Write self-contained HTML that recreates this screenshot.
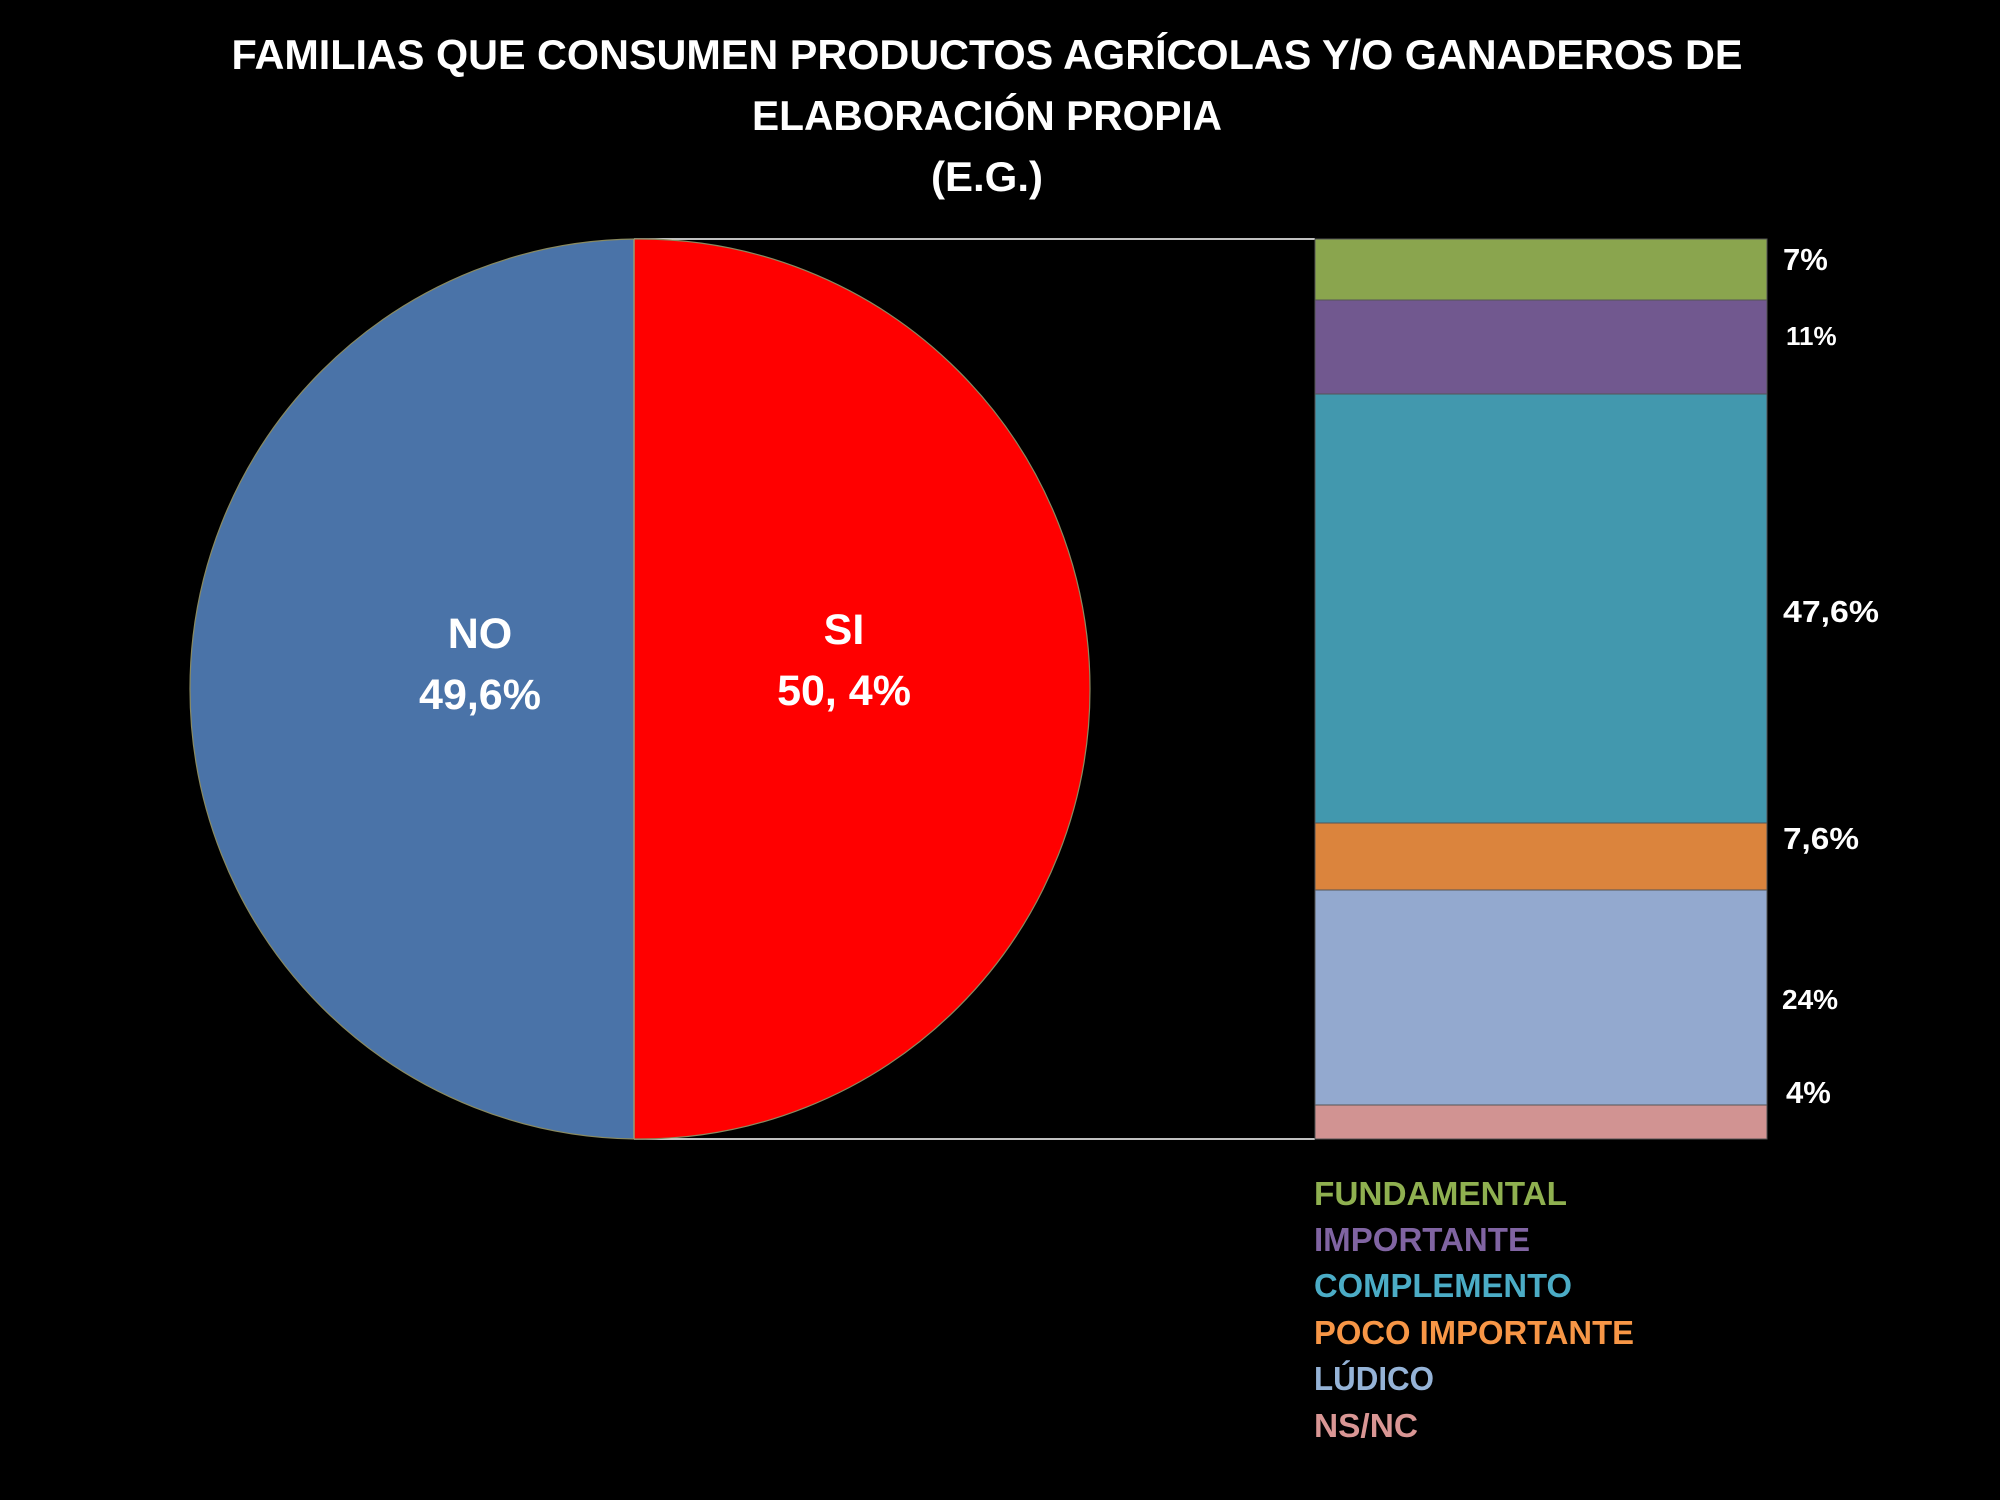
<!DOCTYPE html>
<html><head><meta charset="utf-8"><style>html,body{margin:0;padding:0;background:#000;}svg{display:block}</style></head>
<body>
<svg width="2000" height="1500" viewBox="0 0 2000 1500" xmlns="http://www.w3.org/2000/svg" font-family="'Liberation Sans', sans-serif" font-weight="bold">
<defs><clipPath id="c"><circle cx="640" cy="689" r="450"/></clipPath></defs>
<rect width="2000" height="1500" fill="#000"/>
<g fill="#fff" text-anchor="middle" font-size="42">
<text x="987" y="69" textLength="1511" lengthAdjust="spacingAndGlyphs">FAMILIAS QUE CONSUMEN PRODUCTOS AGRÍCOLAS Y/O GANADEROS DE</text>
<text x="987" y="130" textLength="470" lengthAdjust="spacingAndGlyphs">ELABORACIÓN PROPIA</text>
<text x="987" y="191" textLength="112" lengthAdjust="spacingAndGlyphs">(E.G.)</text>
</g>
<line x1="634" y1="239" x2="1315" y2="239" stroke="#fff" stroke-width="1.5"/>
<line x1="634" y1="1139" x2="1315" y2="1139" stroke="#fff" stroke-width="1.5"/>
<circle cx="640" cy="689" r="450" fill="#4A73A8"/>
<rect x="634" y="230" width="520" height="920" fill="#FF0000" clip-path="url(#c)"/>
<circle cx="640" cy="689" r="450" fill="none" stroke="#8a8a60" stroke-width="1.2"/>
<line x1="634" y1="239" x2="634" y2="1139" stroke="#9a9a70" stroke-width="1.5"/>
<g fill="#fff" text-anchor="middle" font-size="43">
<text x="480" y="648">NO</text>
<text x="480" y="709">49,6%</text>
<text x="844" y="644">SI</text>
<text x="844" y="705">50, 4%</text>
</g>
<g stroke="#555" stroke-width="1">
<rect x="1315" y="239" width="452" height="61" fill="#8AA54E"/>
<rect x="1315" y="300" width="452" height="94" fill="#71588F"/>
<rect x="1315" y="394" width="452" height="429" fill="#4298AE"/>
<rect x="1315" y="823" width="452" height="67" fill="#DB843D"/>
<rect x="1315" y="890" width="452" height="215" fill="#93A9CF"/>
<rect x="1315" y="1105" width="452" height="34" fill="#D19392"/>
</g>
<g fill="#fff" font-size="31">
<text x="1783" y="270">7%</text>
<text x="1786" y="345" font-size="26">11%</text>
<text x="1783" y="622" textLength="96" lengthAdjust="spacingAndGlyphs">47,6%</text>
<text x="1783" y="849" textLength="76" lengthAdjust="spacingAndGlyphs">7,6%</text>
<text x="1782" y="1009" font-size="28">24%</text>
<text x="1786" y="1103">4%</text>
</g>
<g font-size="33">
<text x="1314" y="1205" fill="#8FB050" textLength="253" lengthAdjust="spacingAndGlyphs">FUNDAMENTAL</text>
<text x="1314" y="1251" fill="#8064A2" textLength="216" lengthAdjust="spacingAndGlyphs">IMPORTANTE</text>
<text x="1314" y="1297" fill="#4BACC6" textLength="258" lengthAdjust="spacingAndGlyphs">COMPLEMENTO</text>
<text x="1314" y="1344" fill="#F79646" textLength="320" lengthAdjust="spacingAndGlyphs">POCO IMPORTANTE</text>
<text x="1314" y="1390" fill="#95B3D7" textLength="120" lengthAdjust="spacingAndGlyphs">LÚDICO</text>
<text x="1314" y="1437" fill="#D99694" textLength="104" lengthAdjust="spacingAndGlyphs">NS/NC</text>
</g>
</svg>
</body></html>
